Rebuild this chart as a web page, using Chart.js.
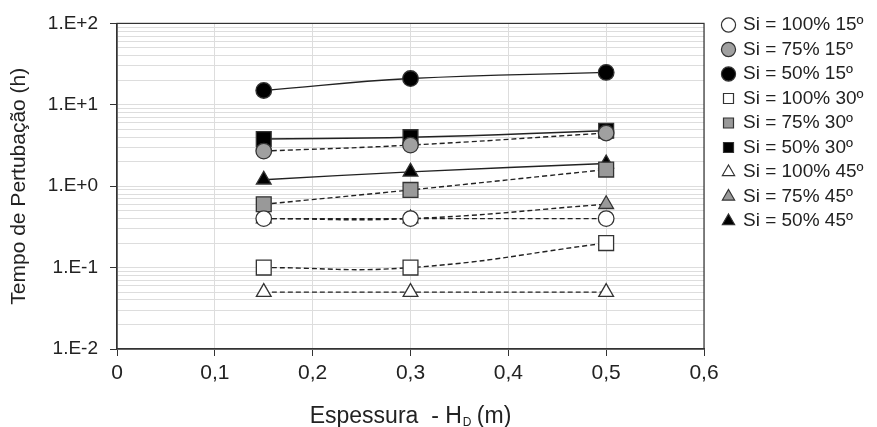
<!DOCTYPE html>
<html>
<head>
<meta charset="utf-8">
<script src="https://cdn.jsdelivr.net/npm/chart.js@4.4.1/dist/chart.umd.min.js"></script>
<style>
  html, body { margin: 0; padding: 0; background: #fff; }
</style>
</head>
<body>
<canvas id="myLineChart" width="877" height="427"></canvas>
<script>
// |------------------------------- data -------------------------------|

var espessura = [0.15, 0.3, 0.5];

var si100_15 = [0.4, 0.4, 0.4];
var si75_15 = [2.7, 3.2, 4.5];
var si50_15 = [15, 21, 25];
var si100_30 = [0.1, 0.1, 0.2];
var si75_30 = [0.6, 0.9, 1.6];
var si50_30 = [3.8, 4.0, 4.8];
var si100_45 = [0.05, 0.05, 0.05];
var si75_45 = [0.4, 0.4, 0.6];
var si50_45 = [1.2, 1.5, 1.9];

var yTickLabels = { '0.01': '1.E-2', '0.1': '1.E-1', '1': '1.E+0', '10': '1.E+1', '100': '1.E+2' };

var FONT = '"Liberation Sans", Arial, sans-serif';

// |------------------------------- helpers -------------------------------|

function pts(values) {
  return values.map(function (v, i) { return { x: espessura[i], y: v }; });
}

function serie(label, values, style, fill, solid) {
  var radius = style === 'rect' ? 10.5 : (style === 'triangle' ? 8.5 : 7.8);
  return {
    label: label,
    data: pts(values),
    pointStyle: style,
    pointRadius: radius,
    pointHoverRadius: radius,
    pointBackgroundColor: fill,
    pointBorderColor: '#333',
    pointBorderWidth: 1.3,
    backgroundColor: fill,
    borderColor: '#222',
    borderWidth: 1.4,
    borderDash: solid ? [] : [5, 3],
    tension: 0.45,
    fill: false
  };
}

// plot frame + x title (with subscript) + legend placement
var frame = {
  id: 'frame',
  beforeInit: function (chart) {
    var fit = chart.legend.fit;
    chart.legend.fit = function () {
      fit.bind(chart.legend)();
      this.width = 173;
    };
  },
  afterLayout: function (chart) {
    var lg = chart.legend;
    lg.left += 14; lg.right += 14;
    lg.top -= 11; lg.bottom -= 11;
  },
  afterDraw: function (chart) {
    var a = chart.chartArea, c = chart.ctx;
    c.save();
    c.strokeStyle = '#333';
    c.lineWidth = 1.2;
    c.strokeRect(a.left, a.top, a.right - a.left, a.bottom - a.top);
    var cx = (a.left + a.right) / 2;
    c.fillStyle = '#222';
    c.textBaseline = 'alphabetic';
    c.textAlign = 'left';
    var t1 = 'Espessura  - H', t3 = ' (m)';
    c.font = '12px ' + FONT;
    var w2 = c.measureText('D').width;
    c.font = '23px ' + FONT;
    var w1 = c.measureText(t1).width, w3 = c.measureText(t3).width;
    var x0 = cx - (w1 + w2 + w3) / 2, y0 = 423;
    c.fillText(t1, x0, y0);
    c.fillText(t3, x0 + w1 + w2, y0);
    c.font = '12px ' + FONT;
    c.fillText('D', x0 + w1 + 1, y0 + 3);
    c.restore();
  }
};

// |------------------------------- Chart.js - Line Chart -------------------------------|

var ctx = document.getElementById('myLineChart').getContext('2d');
var myLineChart = new Chart(ctx, {
  type: 'line',
  data: {
    datasets: [
      serie('Si = 100% 15º', si100_15, 'circle', '#ffffff', false),
      serie('Si = 75% 15º', si75_15, 'circle', '#a0a0a0', false),
      serie('Si = 50% 15º', si50_15, 'circle', '#000000', true),
      serie('Si = 100% 30º', si100_30, 'rect', '#ffffff', false),
      serie('Si = 75% 30º', si75_30, 'rect', '#999999', false),
      serie('Si = 50% 30º', si50_30, 'rect', '#000000', true),
      serie('Si = 100% 45º', si100_45, 'triangle', '#ffffff', false),
      serie('Si = 75% 45º', si75_45, 'triangle', '#999999', false),
      serie('Si = 50% 45º', si50_45, 'triangle', '#000000', true)
    ]
  },
  options: {
    responsive: false,
    animation: false,
    layout: { padding: { top: 21, bottom: 0, left: 0, right: 0 } },
    scales: {
      x: {
        type: 'linear',
        min: 0,
        max: 0.6,
        afterFit: function (axis) { axis.height = 78; },
        ticks: {
          stepSize: 0.1,
          color: '#222',
          padding: 5,
          font: { family: FONT, size: 21 },
          callback: function (v) { return v === 0 ? '0' : v.toFixed(1).replace('.', ','); }
        },
        grid: { color: '#dddddd', tickColor: '#333', tickLength: 7, lineWidth: 1 },
        border: { color: '#333', width: 1.2 },
        title: { display: false }
      },
      y: {
        type: 'logarithmic',
        min: 0.01,
        max: 100,
        afterFit: function (axis) { axis.width = 117; },
        afterBuildTicks: function (axis) {
          var t = [];
          [0.01, 0.1, 1, 10].forEach(function (d) {
            for (var k = 1; k < 10; k++) t.push({ value: d * k, major: k === 1 });
          });
          t.push({ value: 100, major: true });
          axis.ticks = t;
        },
        ticks: {
          autoSkip: false,
          color: '#222',
          padding: 12,
          font: { family: FONT, size: 19 },
          callback: function (v) {
            var key = String(+v.toPrecision(3));
            return yTickLabels[key] || '';
          }
        },
        grid: {
          color: '#dddddd',
          lineWidth: 1,
          tickLength: 7,
          tickColor: function (c) { return c.tick && c.tick.major ? '#333' : 'rgba(0,0,0,0)'; }
        },
        border: { color: '#333', width: 1.2 },
        title: {
          display: true,
          text: 'Tempo de Pertubação (h)',
          color: '#222',
          padding: { top: 7, bottom: 0 },
          font: { family: FONT, size: 21 }
        }
      }
    },
    plugins: {
      legend: {
        position: 'right',
        align: 'start',
        labels: {
          usePointStyle: true,
          boxWidth: 10,
          boxHeight: 10,
          padding: 5.5,
          color: '#222',
          font: { family: FONT, size: 19 },
          generateLabels: function (chart) {
            var items = Chart.defaults.plugins.legend.labels.generateLabels(chart);
            items.forEach(function (it) { it.lineDash = []; it.lineWidth = 1.2; it.strokeStyle = '#333'; });
            return items;
          }
        }
      },
      tooltip: { enabled: false }
    }
  },
  plugins: [frame]
});
</script>
</body>
</html>
